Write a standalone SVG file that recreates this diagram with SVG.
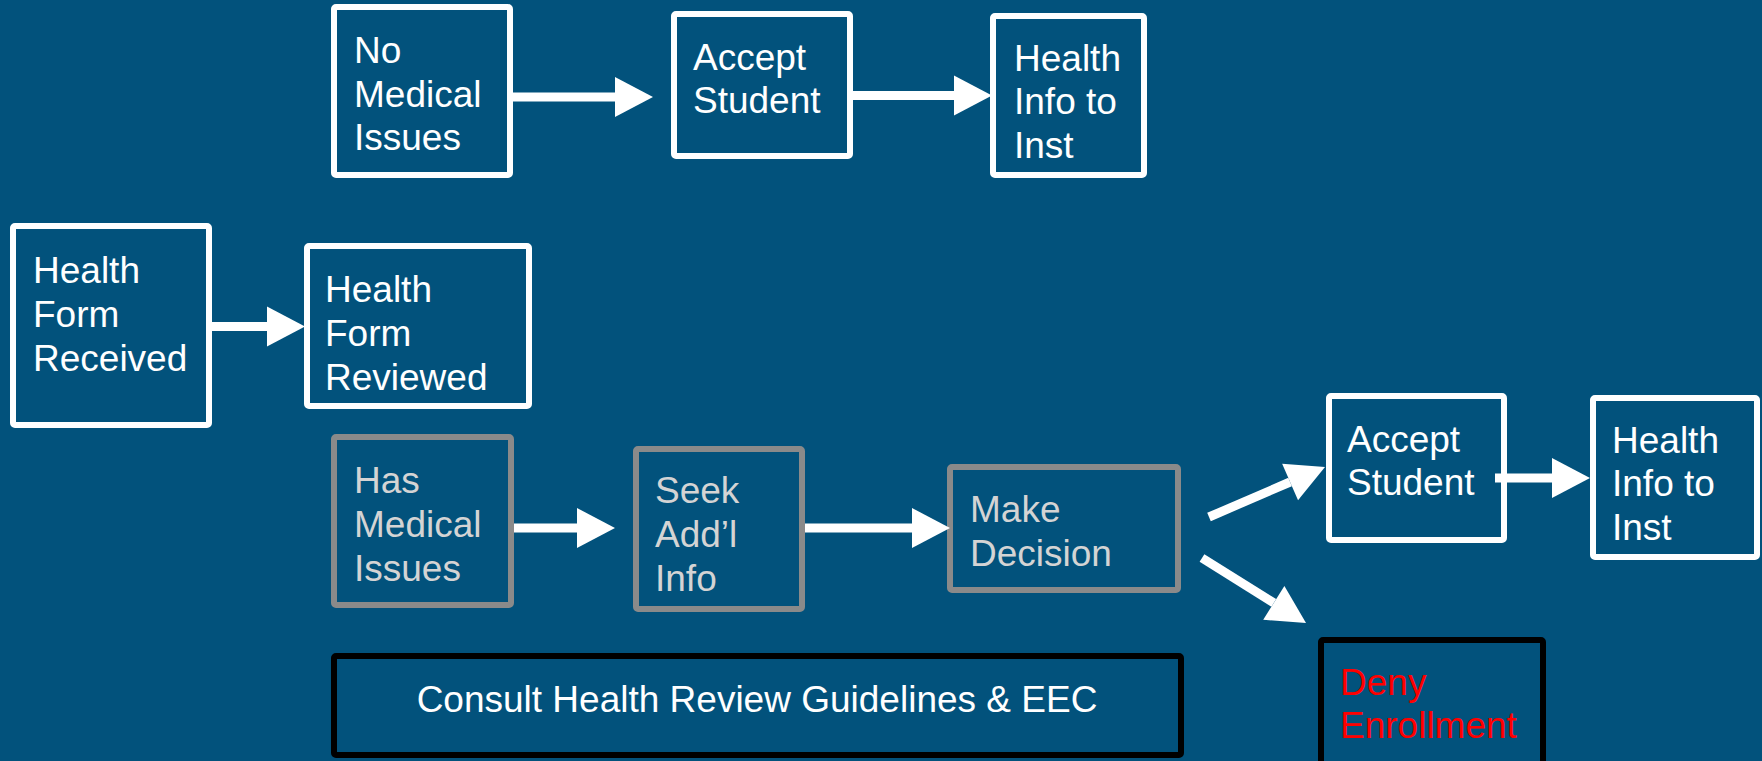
<svg xmlns="http://www.w3.org/2000/svg" width="1762" height="761" viewBox="0 0 1762 761">
  <defs>
    <marker id="head" markerUnits="userSpaceOnUse" markerWidth="38" markerHeight="40" refX="0" refY="20" orient="auto" overflow="visible">
      <path d="M0,0 L38,20 L0,40 Z" fill="#ffffff"/>
    </marker>
    <style>
      .bg { fill: #02527c; }
      .box { fill: #02527c; stroke: #ffffff; stroke-width: 6; }
      .gbox { fill: #02527c; stroke: #8a8a8a; stroke-width: 6; }
      .kbox { fill: #02527c; stroke: #000000; stroke-width: 6; }
      .t { font-family: "Liberation Sans", Arial, sans-serif; font-size: 37px; fill: #ffffff; }
      .gt { fill: #d4d4d4; }
      .rt { fill: #ff0000; }
      .c { stroke: #ffffff; stroke-width: 9; fill: none; marker-end: url(#head); }
    </style>
  </defs>

  <rect class="bg" x="0" y="0" width="1762" height="761"/>

  <!-- upper branch: no medical issues -->
  <g id="no-medical">
    <rect class="box" x="334" y="7" width="176" height="168" rx="2"/>
    <text class="t"><tspan x="354" y="63">No</tspan><tspan x="354" y="107">Medical</tspan><tspan x="354" y="150">Issues</tspan></text>
  </g>
  <g id="accept-1">
    <rect class="box" x="674" y="14" width="176" height="142" rx="2"/>
    <text class="t"><tspan x="693" y="70">Accept</tspan><tspan x="693" y="113">Student</tspan></text>
  </g>
  <g id="info-1">
    <rect class="box" x="993" y="16" width="151" height="159" rx="2"/>
    <text class="t"><tspan x="1014" y="71">Health</tspan><tspan x="1014" y="114">Info to</tspan><tspan x="1014" y="158">Inst</tspan></text>
  </g>

  <!-- intake -->
  <g id="received">
    <rect class="box" x="13" y="226" width="196" height="199" rx="2"/>
    <text class="t"><tspan x="33" y="283">Health</tspan><tspan x="33" y="327">Form</tspan><tspan x="33" y="371">Received</tspan></text>
  </g>
  <g id="reviewed">
    <rect class="box" x="307" y="246" width="222" height="160" rx="2"/>
    <text class="t"><tspan x="325" y="302">Health</tspan><tspan x="325" y="346">Form</tspan><tspan x="325" y="390">Reviewed</tspan></text>
  </g>

  <!-- lower branch: has medical issues -->
  <g id="has-medical">
    <rect class="gbox" x="334" y="437" width="177" height="168" rx="2"/>
    <text class="t gt"><tspan x="354" y="493">Has</tspan><tspan x="354" y="537">Medical</tspan><tspan x="354" y="581">Issues</tspan></text>
  </g>
  <g id="seek-info">
    <rect class="gbox" x="636" y="449" width="166" height="160" rx="2"/>
    <text class="t gt"><tspan x="655" y="503">Seek</tspan><tspan x="655" y="547">Add’l</tspan><tspan x="655" y="591">Info</tspan></text>
  </g>
  <g id="decision">
    <rect class="gbox" x="950" y="467" width="228" height="123" rx="2"/>
    <text class="t gt"><tspan x="970" y="522">Make</tspan><tspan x="970" y="566">Decision</tspan></text>
  </g>
  <g id="accept-2">
    <rect class="box" x="1329" y="396" width="175" height="144" rx="2"/>
    <text class="t"><tspan x="1347" y="452">Accept</tspan><tspan x="1347" y="495">Student</tspan></text>
  </g>
  <g id="info-2">
    <rect class="box" x="1593" y="398" width="164" height="159" rx="2"/>
    <text class="t"><tspan x="1612" y="453">Health</tspan><tspan x="1612" y="496">Info to</tspan><tspan x="1612" y="540">Inst</tspan></text>
  </g>
  <g id="deny">
    <rect class="kbox" x="1321" y="640" width="222" height="140" rx="2"/>
    <text class="t rt"><tspan x="1340" y="695">Deny</tspan><tspan x="1340" y="738">Enrollment</tspan></text>
  </g>
  <g id="guidelines">
    <rect class="kbox" x="334" y="656" width="847" height="99" rx="2"/>
    <text class="t" x="757" y="712" text-anchor="middle">Consult Health Review Guidelines &amp; EEC</text>
  </g>

  <!-- connectors -->
  <g id="connectors">
    <line class="c" x1="513" y1="97" x2="615" y2="97"/>
    <line class="c" x1="853" y1="95.5" x2="954" y2="95.5"/>
    <line class="c" x1="212" y1="326.5" x2="267" y2="326.5"/>
    <line class="c" x1="514" y1="528" x2="577" y2="528"/>
    <line class="c" x1="805" y1="528" x2="912" y2="528"/>
    <line class="c" x1="1495" y1="478" x2="1552" y2="478"/>
    <line class="c" x1="1209" y1="517" x2="1290.1" y2="482"/>
    <line class="c" x1="1202" y1="558" x2="1273.8" y2="602.9"/>
  </g>
</svg>
